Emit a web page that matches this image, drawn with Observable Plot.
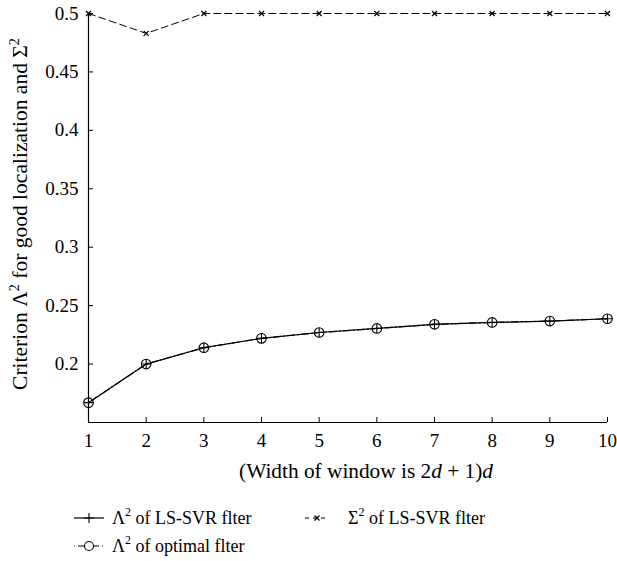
<!DOCTYPE html>
<html><head><meta charset="utf-8">
<script src="https://cdn.jsdelivr.net/npm/d3@7"></script>
<script src="https://cdn.jsdelivr.net/npm/@observablehq/plot@0.6"></script>
<style>
body{margin:0;background:#fff;font-family:"Liberation Serif","DejaVu Serif",serif;color:#000;}
#wrap{position:relative;width:617px;height:561px;overflow:hidden;}
#chart{position:absolute;left:0;top:0;}
.leg{position:absolute;display:flex;align-items:center;font-size:18px;height:26px;white-space:nowrap;}
.leg svg{display:block;}
sup{font-size:12px;vertical-align:8px;line-height:0;}
</style></head><body><div id="wrap"><div id="chart"></div>
<div class="leg" style="left:74px;top:505px;"><svg width="30" height="26" id="s1"></svg><span style="margin-left:8px">Λ<sup>2</sup> of LS-SVR flter</span></div>
<div class="leg" style="left:305px;top:505px;"><svg width="24" height="26" id="s2"></svg><span style="margin-left:19px">Σ<sup>2</sup> of LS-SVR flter</span></div>
<div class="leg" style="left:74px;top:533px;"><svg width="30" height="26" id="s3"></svg><span style="margin-left:8px">Λ<sup>2</sup> of optimal flter</span></div>
</div>
<script>
// ---- data ----
const widths = [1, 2, 3, 4, 5, 6, 7, 8, 9, 10];
const lambdaLSSVR = [0.167, 0.200, 0.214, 0.222, 0.227, 0.2305, 0.234, 0.2356, 0.2368, 0.2388];
const lambdaOptimal = [0.167, 0.200, 0.214, 0.222, 0.227, 0.2305, 0.234, 0.2356, 0.2368, 0.2388];
const sigmaLSSVR = [0.5, 0.483, 0.5, 0.5, 0.5, 0.5, 0.5, 0.5, 0.5, 0.5];
const xTicks = [1, 2, 3, 4, 5, 6, 7, 8, 9, 10];
const yTicks = [0.2, 0.25, 0.3, 0.35, 0.4, 0.45, 0.5];

const lsData = widths.map((d, i) => ({d, v: lambdaLSSVR[i]}));
const optData = widths.map((d, i) => ({d, v: lambdaOptimal[i]}));
const sigData = widths.map((d, i) => ({d, v: sigmaLSSVR[i]}));

const plusSym = {draw(ctx, size) {const r = Math.sqrt(size / Math.PI); ctx.moveTo(-r, 0); ctx.lineTo(r, 0); ctx.moveTo(0, -r); ctx.lineTo(0, r);}};
const timesSym = {draw(ctx, size) {const r = Math.sqrt(size / Math.PI); ctx.moveTo(-r, -r); ctx.lineTo(r, r); ctx.moveTo(r, -r); ctx.lineTo(-r, r);}};

const serif = "'Liberation Serif', 'DejaVu Serif', serif";
const chart = Plot.plot({
  width: 617,
  height: 505,
  marginLeft: 88,
  marginRight: 10,
  marginTop: 13,
  marginBottom: 83,
  style: {fontFamily: serif, fontSize: "19px", color: "black", background: "white"},
  x: {domain: [1, 10]},
  y: {domain: [0.15, 0.5]},
  marks: [
    Plot.ruleY([0.15], {stroke: "black", strokeWidth: 1.2}),
    Plot.ruleX([1], {stroke: "black", strokeWidth: 1.2}),
    Plot.axisX({ticks: xTicks, tickSize: -5, tickPadding: 15.5, label: null, fontSize: 19, tickFormat: d => String(d)}),
    Plot.axisY({ticks: yTicks, tickSize: -5, tickPadding: 15, label: null, fontSize: 19, tickFormat: d => String(+d.toFixed(2))}),
    Plot.line(sigData, {x: "d", y: "v", stroke: "black", strokeWidth: 1, strokeDasharray: "7,4"}),
    Plot.line(optData, {x: "d", y: "v", stroke: "black", strokeWidth: 1.2, strokeDasharray: "1,3,7,3"}),
    Plot.line(lsData, {x: "d", y: "v", stroke: "black", strokeWidth: 1.2}),
    Plot.dot(sigData, {x: "d", y: "v", symbol: timesSym, r: 2.5, stroke: "black", fill: "none", strokeWidth: 1.2}),
    Plot.dot(optData, {x: "d", y: "v", symbol: "circle", r: 4.8, stroke: "black", fill: "none", strokeWidth: 1.1}),
    Plot.dot(lsData, {x: "d", y: "v", symbol: plusSym, r: 4.8, stroke: "black", fill: "none", strokeWidth: 1.1})
  ]
});
document.getElementById("chart").appendChild(chart);

const svg = d3.select(chart);
svg.selectAll("text").style("font-family", serif);

function fitSize(sel, base, target) {
  const len = sel.node().getComputedTextLength();
  if (len > 0) {
    const k = target / len;
    sel.attr("font-size", base * k);
    sel.selectAll("tspan.sup").attr("font-size", base * k * 0.66);
  }
}
// x-axis title
const xt = svg.append("text").attr("x", 366).attr("y", 478).attr("text-anchor", "middle")
  .attr("font-size", 20).attr("fill", "black").style("font-family", serif);
xt.append("tspan").text("(Width of window is 2");
xt.append("tspan").attr("font-style", "italic").text("d");
xt.append("tspan").text(" + 1)");
xt.append("tspan").attr("font-style", "italic").text("d");
fitSize(xt, 20, 254);
// y-axis title
const yt = svg.append("text").attr("transform", "translate(27,214) rotate(-90)").attr("text-anchor", "middle")
  .attr("font-size", 20).attr("fill", "black").style("font-family", serif);
yt.append("tspan").text("Criterion Λ");
yt.append("tspan").attr("class", "sup").attr("font-size", 13).attr("dy", -8).text("2");
yt.append("tspan").attr("dy", 8).text(" for good localization and Σ");
yt.append("tspan").attr("class", "sup").attr("font-size", 13).attr("dy", -8).text("2");
fitSize(yt, 20, 352);

// legend symbols
function sym(id, dash, kind) {
  const s = d3.select("#" + id);
  const w = +s.attr("width");
  s.append("line").attr("x1", 0).attr("x2", w).attr("y1", 13).attr("y2", 13)
    .attr("stroke", "black").attr("stroke-width", 1.2).attr("stroke-dasharray", dash);
  const c = w / 2;
  if (kind === "plus") s.append("path").attr("d", `M${c-5},13H${c+5}M${c},8V18`).attr("stroke", "black").attr("stroke-width", 1.1);
  if (kind === "times") s.append("path").attr("d", `M${c-2.5},10.5L${c+2.5},15.5M${c+2.5},10.5L${c-2.5},15.5`).attr("stroke", "black").attr("stroke-width", 1.2);
  if (kind === "circle") s.append("circle").attr("cx", c).attr("cy", 13).attr("r", 4.5).attr("fill", "white").attr("stroke", "black").attr("stroke-width", 1.1);
}
sym("s1", null, "plus");
sym("s2", "4,4", "times");
sym("s3", "1,3,7,3", "circle");
</script>
</body></html>
